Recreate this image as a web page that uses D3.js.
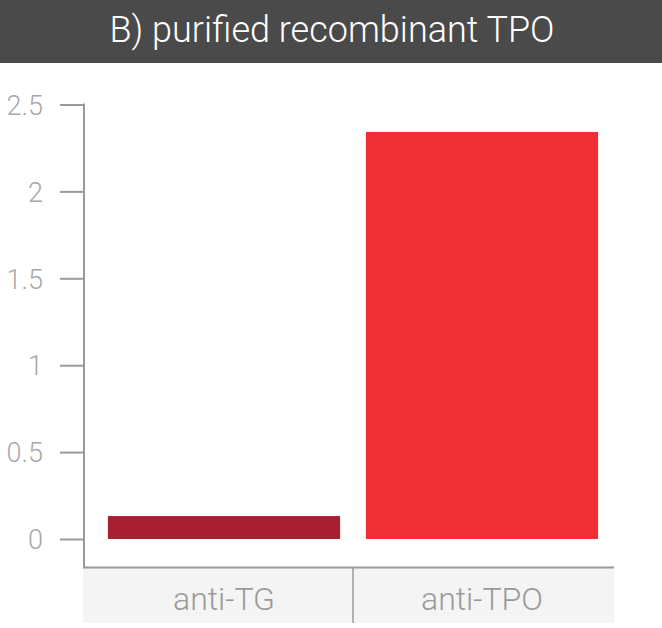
<!DOCTYPE html>
<html><head><meta charset="utf-8">
<script src="https://cdn.jsdelivr.net/npm/d3@7"></script>
<style>html,body{margin:0;padding:0;background:#fff;}svg{display:block;}</style>
</head><body>
<script>
const title = "B) purified recombinant TPO";
const categories = ["anti-TG", "anti-TPO"];
const values = [0.132, 2.342];
const barColors = ["#a91f32", "#ef2e35"];
const yTicks = [0, 0.5, 1, 1.5, 2, 2.5];

const W = 662, H = 628;
const svg = d3.select("body").append("svg").attr("width", W).attr("height", H);
const font = "Roboto, 'Helvetica Neue', Arial, sans-serif";

// title bar
svg.append("rect").attr("x", 0).attr("y", 0).attr("width", W).attr("height", 63).attr("fill", "#4a4a4a");
svg.append("text").attr("x", W / 2 + 1).attr("y", 42).attr("text-anchor", "middle")
  .attr("fill", "#fff").attr("font-family", font).attr("font-weight", 300).attr("font-size", 36).text(title);

const y = d3.scaleLinear().domain([0, 2.5]).range([539, 104.5]);
const x = d3.scaleBand().domain(categories).range([95, 611]).paddingInner(0.1).paddingOuter(0.05);

const axisLeftX = 84, axisBottomY = 567.5, axisRightX = 614, boxBottom = 623;
const gray = "#9a9a9a";

// category box
svg.append("rect").attr("x", axisLeftX - 1).attr("y", axisBottomY).attr("width", axisRightX - axisLeftX + 1)
  .attr("height", boxBottom - axisBottomY).attr("fill", "#f4f4f4");

// bars
svg.selectAll("rect.bar").data(categories).enter().append("rect").attr("class", "bar")
  .attr("x", d => x(d)).attr("width", x.bandwidth())
  .attr("y", (d, i) => y(values[i])).attr("height", (d, i) => y(0) - y(values[i]))
  .attr("fill", (d, i) => barColors[i]);

// y axis
const yAxis = d3.axisLeft(y).tickValues(yTicks).tickSize(24).tickPadding(17)
  .tickFormat(d => d3.format("")(d));
const gy = svg.append("g").attr("transform", `translate(${axisLeftX},0)`).call(yAxis);
gy.select(".domain").remove();
gy.selectAll(".tick line").attr("stroke", gray).attr("stroke-width", 2);
gy.selectAll(".tick text").attr("fill", "#a8a8a8").attr("font-family", font).attr("font-weight", 300)
  .attr("font-size", 27).attr("dy", "0.36em");
svg.append("line").attr("x1", axisLeftX).attr("x2", axisLeftX).attr("y1", y(2.5) - 1).attr("y2", axisBottomY)
  .attr("stroke", gray).attr("stroke-width", 2);

// x axis
const xAxis = d3.axisBottom(x).tickSize(0).tickPadding(0);
const gx = svg.append("g").attr("transform", `translate(0,${axisBottomY})`).call(xAxis);
gx.select(".domain").remove();
gx.selectAll(".tick text").attr("fill", "#9a9a9a").attr("font-family", font).attr("font-weight", 300)
  .attr("font-size", 32).attr("dy", 0).attr("y", 42);
svg.append("line").attr("x1", axisLeftX - 1).attr("x2", axisRightX).attr("y1", axisBottomY).attr("y2", axisBottomY)
  .attr("stroke", gray).attr("stroke-width", 2);
// separator between categories
const sep = (x(categories[0]) + x.bandwidth() + x(categories[1])) / 2;
svg.append("line").attr("x1", sep).attr("x2", sep).attr("y1", axisBottomY).attr("y2", boxBottom)
  .attr("stroke", gray).attr("stroke-width", 1.5);
</script>
</body></html>
